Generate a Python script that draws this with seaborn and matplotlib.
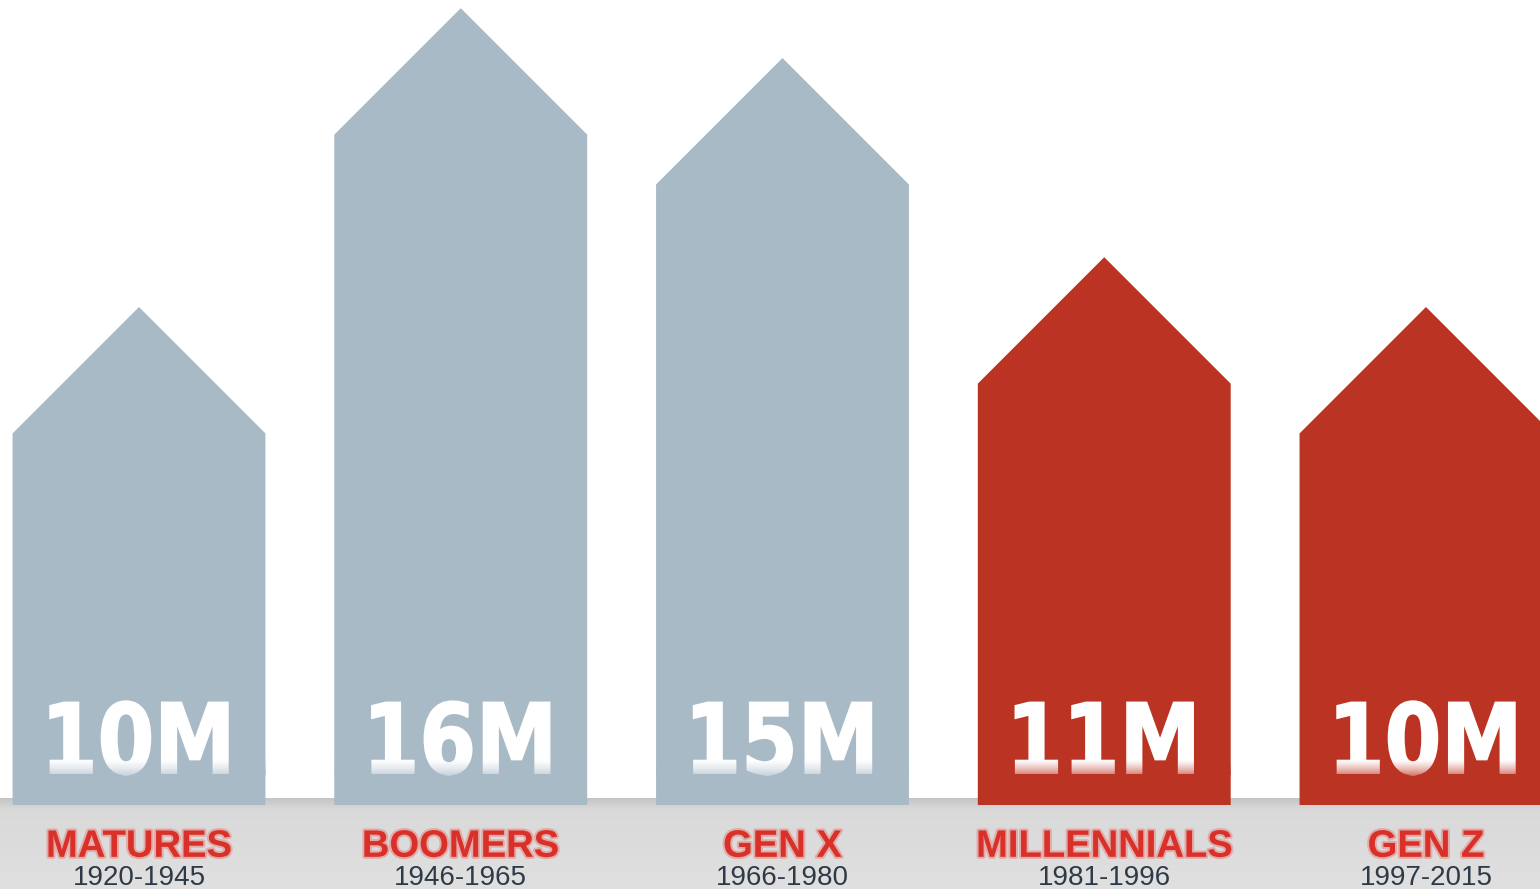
import numpy as np
import pandas as pd
import matplotlib
matplotlib.use("Agg")
import matplotlib.pyplot as plt
from matplotlib.patches import Polygon, PathPatch
from matplotlib.colors import to_rgb
from matplotlib.textpath import TextPath
from matplotlib.font_manager import FontProperties
from matplotlib.transforms import Affine2D
import matplotlib.patheffects as pe
import seaborn as sns

# Generations and their sizes (millions)
generations = ["MATURES", "BOOMERS", "GEN X", "MILLENNIALS", "GEN Z"]
birth_years = ["1920-1945", "1946-1965", "1966-1980", "1981-1996", "1997-2015"]
population_m = [10, 16, 15, 11, 10]
value_labels = ["10M", "16M", "15M", "11M", "10M"]
group = ["older", "older", "older", "younger", "younger"]

GREY = "#a9bac7"
RED = "#bb3423"
palette = {"older": GREY, "younger": RED}

df = pd.DataFrame({"generation": generations, "population": population_m,
                   "group": group})

sns.set_theme(style="white")
plt.rcParams["font.family"] = ["DejaVu Sans"]

W, H, DPI = 1540, 889, 100
fig = plt.figure(figsize=(W / DPI, H / DPI), dpi=DPI)
ax = fig.add_axes([0, 0, 1, 1])

ax = sns.barplot(data=df, x="generation", y="population", hue="group",
                 palette=palette, dodge=False, width=0.786, legend=False,
                 saturation=1, ax=ax, zorder=3)

# pixel-based limits: baseline sits 84 px above the bottom edge
px_per_unit = 49.8
YLIM = (-84 / px_per_unit, (H - 84) / px_per_unit)
XLIM = (-139 / 321.75, (W - 139) / 321.75)
ax.set_ylim(*YLIM)
ax.set_xlim(*XLIM)
ax.set_axis_off()
fig.canvas.draw()

# convert a half-width in x-data units to the same pixel length in y-data
def roof_height(half_w):
    x_px = ax.transData.transform([(0, 0), (half_w, 0)])
    dx = x_px[1, 0] - x_px[0, 0]
    y0 = ax.transData.transform([(0, 0)])[0, 1]
    return ax.transData.inverted().transform([(0, y0 + dx)])[0, 1]

# turn each rectangular bar into a house shape with a 45-degree roof
houses = []
for patch in list(ax.patches):
    x0, w, h = patch.get_x(), patch.get_width(), patch.get_height()
    if h == 0 or np.isnan(h):
        patch.remove()
        continue
    color = patch.get_facecolor()
    r = roof_height(w / 2)
    xc = x0 + w / 2
    poly = Polygon([(x0, 0), (x0, h - r), (xc, h), (x0 + w, h - r), (x0 + w, 0)],
                   closed=True, facecolor=color, edgecolor="none", zorder=3)
    ax.add_patch(poly)
    houses.append((xc, x0, w, color))
    patch.remove()
houses.sort(key=lambda t: t[0])

# floor band with a soft vertical gradient
floor_top = 7 / px_per_unit
grad = np.linspace(0, 1, 200)[:, None]
top_c = np.array(to_rgb("#c4c4c4"))
mid_c = np.array(to_rgb("#d9d9d9"))
bot_c = np.array(to_rgb("#e0e0e0"))
cols = np.where(grad < 0.12,
                top_c + (mid_c - top_c) * (grad / 0.12),
                mid_c + (bot_c - mid_c) * ((grad - 0.12) / 0.88))
floor_img = np.repeat(cols[:, None, :], 2, axis=1).reshape(200, 2, 3)
ax.imshow(floor_img, extent=[XLIM[0], XLIM[1], YLIM[0], floor_top],
          origin="upper", aspect="auto", zorder=1, interpolation="bilinear")

# value labels: heavy, slightly condensed glyphs with a fading lower edge
value_font = FontProperties(family="DejaVu Sans", weight="bold")
for (xc, x0, w, color), lab in zip(houses, value_labels):
    tp = TextPath((0, 0), lab, size=97, prop=value_font)
    ext = tp.get_extents()
    cx = (ext.x0 + ext.x1) / 2
    px, py = ax.transData.transform((xc, 0.64))
    tr = Affine2D().translate(-cx, 0).scale(0.84, 1).translate(px, py)
    ax.add_patch(PathPatch(tp, facecolor="white", edgecolor="white", lw=1.2,
                           transform=tr, zorder=4))
    rgb = np.array(to_rgb(color))
    n = 50
    fade = np.zeros((n, 2, 4))
    fade[..., :3] = rgb
    fade[..., 3] = np.linspace(0, 0.7, n)[:, None] ** 1.3
    ax.imshow(fade, extent=[x0, x0 + w, 0.60, 0.92], origin="upper",
              aspect="auto", zorder=5, interpolation="bilinear")

ax.set_xlim(*XLIM)
ax.set_ylim(*YLIM)

# generation names and birth-year ranges
for (xc, x0, w, color), name, yrs in zip(houses, generations, birth_years):
    ax.text(xc, -1.04, name, ha="center", va="baseline", color="#d9302a",
            fontsize=27.5, fontweight="bold", family="Liberation Sans", zorder=6,
            path_effects=[pe.withStroke(linewidth=3, foreground="#e8736b",
                                        alpha=0.45)])
    ax.text(xc, -1.61, yrs, ha="center", va="baseline", color="#2e3a48",
            fontsize=20, family="Liberation Sans", zorder=6)

fig.savefig("out.png", dpi=DPI)
